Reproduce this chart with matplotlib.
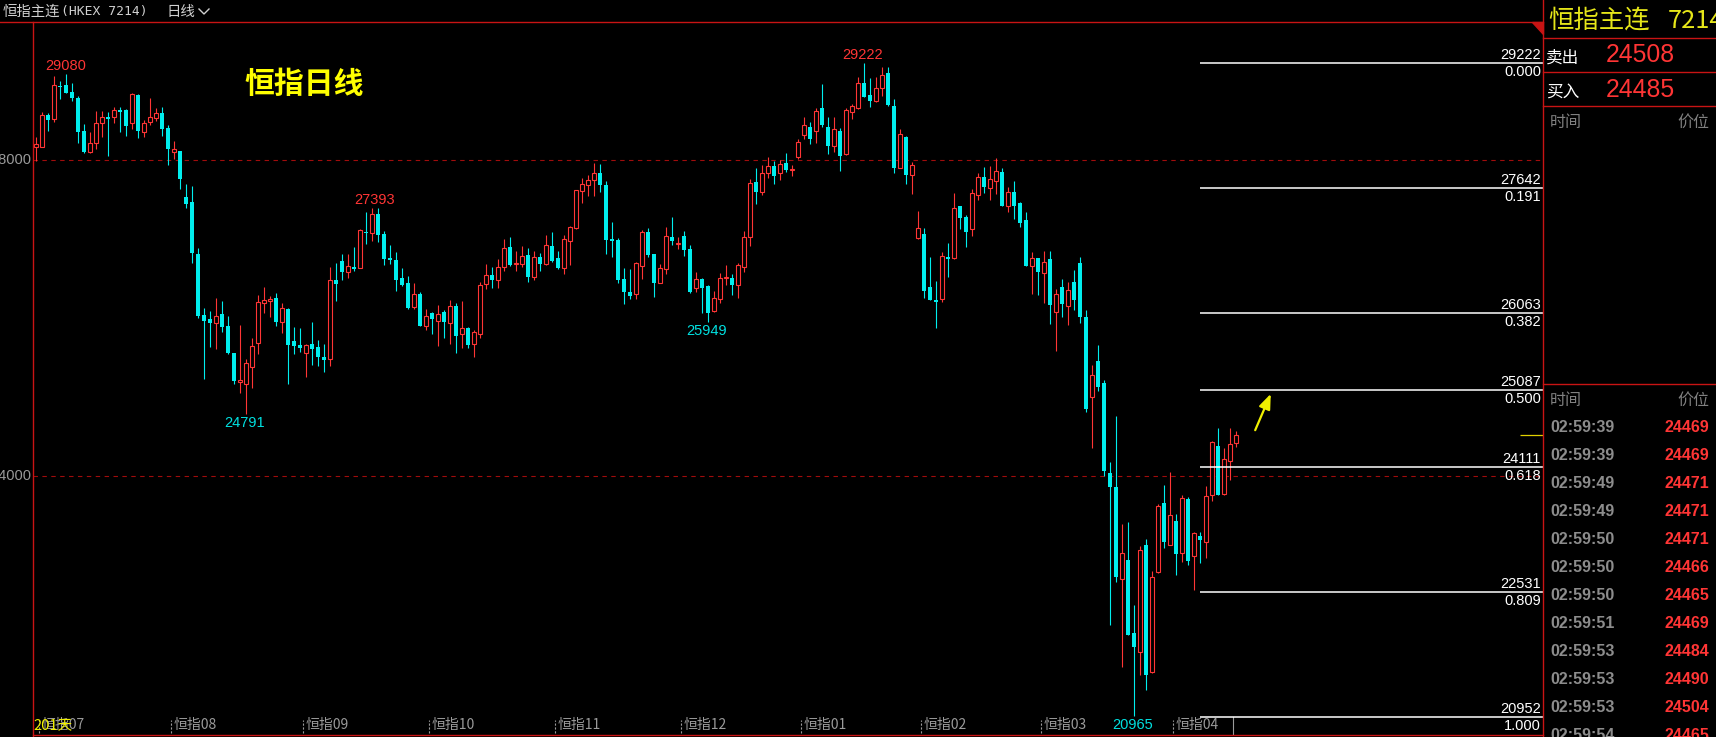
import matplotlib
matplotlib.use("Agg")
import matplotlib.pyplot as plt
from matplotlib.lines import Line2D
from matplotlib.patches import Polygon
import matplotlib.transforms as mtransforms

plt.rcParams['font.family'] = ['Noto Sans CJK SC', 'DejaVu Sans']

# daily candles, oldest first (open, high, low, close)
opens = [28159, 28168, 28568, 28522, 28939, 28948, 28859, 28783, 28366, 28104,
         28210, 28463, 28543, 28539, 28631, 28631, 28463, 28821, 28357, 28484,
         28526, 28593, 28404, 28096, 28113, 27535, 27468, 26810, 26038, 25987,
         25941, 26051, 25899, 25557, 25195, 25161, 25384, 25688, 26194, 26211,
         26253, 25954, 26114, 25709, 25658, 25553, 25671, 25637, 25507, 25477,
         26480, 26721, 26586, 26645, 26636, 27088, 27079, 27315, 27062, 26763,
         26733, 26506, 26442, 26143, 26303, 25903, 26063, 25966, 26076, 25932,
         26151, 25801, 25873, 25675, 25793, 26426, 26544, 26485, 26641, 26898,
         26687, 26687, 26792, 26523, 26771, 26687, 26911, 26759, 26628, 26970,
         27142, 27611, 27678, 27741, 27830, 27682, 26999, 26986, 26489, 26329,
         26299, 26662, 27088, 26809, 26447, 26615, 27025, 26940, 27033, 26873,
         26375, 26493, 26405, 26084, 26244, 26510, 26506, 26413, 26641, 27020,
         27720, 27590, 27830, 27923, 27830, 27956, 27872, 28032, 28319, 28416,
         28370, 28657, 28416, 28180, 28366, 28070, 28610, 28652, 28973, 28821,
         28749, 28905, 29099, 28682, 27902, 28290, 27805, 27016, 27062, 26392,
         26228, 26244, 26773, 26754, 27419, 27279, 27129, 27559, 27784, 27648,
         27737, 27845, 27419, 27592, 27456, 27241, 26651, 26759, 26563, 26745,
         26080, 26392, 26152, 26455, 26696, 26013, 24997, 25456, 25174, 24035,
         23858, 22694, 22935, 22011, 21771, 23129, 21526, 22783, 23656, 23133,
         23428, 23023, 23706, 22994, 23242, 23171, 23757, 24377, 23778, 24187,
         24423]
highs = [28286, 28610, 28589, 29062, 28994, 29080, 28973, 28809, 28454, 28357,
         28619, 28619, 28610, 28669, 28669, 28644, 28847, 28830, 28505, 28779,
         28661, 28669, 28442, 28239, 28113, 27695, 27670, 26881, 26127, 26089,
         26253, 26215, 26025, 25557, 25912, 25477, 25743, 26291, 26392, 26278,
         26316, 26186, 26127, 25890, 25878, 25671, 25949, 25722, 25671, 26645,
         26691, 26809, 26809, 26898, 27121, 27345, 27387, 27393, 27100, 26923,
         26835, 26632, 26531, 26438, 26329, 26114, 26076, 26164, 26101, 26227,
         26189, 26215, 25886, 25848, 26455, 26683, 26645, 26746, 26999, 27020,
         26847, 26906, 26885, 26843, 26818, 27050, 27083, 26847, 27050, 27164,
         27615, 27767, 27809, 27961, 27948, 27733, 27214, 27012, 26632, 26620,
         26708, 27113, 27138, 26809, 26679, 27151, 27278, 27025, 27100, 26923,
         26582, 26506, 26417, 26341, 26565, 26670, 26556, 26696, 27100, 27758,
         27897, 27935, 28037, 27986, 27994, 28083, 27935, 28260, 28543, 28475,
         28652, 28956, 28543, 28543, 28399, 28652, 28711, 29049, 29222, 29040,
         29049, 29171, 29180, 28770, 28391, 28306, 27973, 27358, 27134, 26776,
         26472, 26839, 26951, 27583, 27419, 27297, 27634, 27835, 27910, 27924,
         28023, 27896, 27658, 27733, 27466, 27339, 26834, 26759, 26848, 26848,
         26366, 26493, 26455, 26607, 26771, 26101, 25405, 25658, 25216, 24174,
         24761, 23390, 23415, 22365, 23112, 23200, 22795, 23643, 23883, 24048,
         23517, 23757, 23732, 23293, 23289, 23871, 24444, 24605, 24352, 24605,
         24571]
lows = [27990, 28159, 28370, 28484, 28766, 28842, 28750, 28218, 28092, 28092,
        28138, 28294, 28054, 28467, 28357, 28307, 28395, 28281, 28294, 28442,
        28497, 28307, 27940, 28016, 27636, 27396, 26692, 26004, 25224, 25637,
        25604, 25819, 25545, 25161, 25055, 24791, 25110, 25540, 26059, 26017,
        25903, 25815, 25161, 25540, 25566, 25258, 25405, 25397, 25313, 25397,
        26219, 26480, 26510, 26598, 26636, 26936, 26978, 26965, 26670, 26679,
        26341, 26405, 26114, 26114, 25898, 25848, 25797, 25645, 25747, 25671,
        25561, 25624, 25624, 25511, 25751, 26367, 26379, 26383, 26598, 26658,
        26598, 26649, 26459, 26485, 26598, 26674, 26708, 26620, 26561, 26670,
        27126, 27459, 27547, 27547, 27598, 26809, 26776, 26447, 26181, 26244,
        26236, 26497, 26771, 26270, 26443, 26556, 26923, 26877, 26788, 26316,
        26329, 26067, 25949, 26080, 26190, 26417, 26295, 26257, 26586, 26915,
        27446, 27556, 27767, 27699, 27746, 27851, 27800, 28016, 28269, 28205,
        28218, 28420, 28075, 28096, 27864, 28062, 28513, 28640, 28791, 28665,
        28732, 28813, 28686, 27834, 27893, 27699, 27564, 27000, 26248, 26228,
        25878, 26206, 26520, 26745, 27124, 26900, 27035, 27494, 27583, 27494,
        27569, 27419, 27339, 27250, 27152, 26656, 26305, 26291, 26188, 25926,
        25584, 26013, 25912, 26101, 25937, 24815, 24360, 25081, 24006, 22116,
        22665, 21590, 21990, 20965, 21488, 21298, 21505, 22779, 23095, 23133,
        22753, 22918, 22876, 22564, 22905, 22968, 23689, 23765, 23765, 23955,
        24373]
closes = [28197, 28568, 28505, 28948, 28918, 28851, 28787, 28357, 28104, 28210,
          28463, 28539, 28522, 28627, 28610, 28433, 28834, 28370, 28463, 28539,
          28589, 28387, 28142, 28134, 27763, 27446, 26818, 26030, 25966, 25937,
          26025, 25890, 25557, 25207, 25211, 25427, 25646, 26202, 26228, 26240,
          25954, 26127, 25663, 25650, 25625, 25654, 25608, 25511, 25473, 26477,
          26434, 26586, 26657, 26620, 27113, 27071, 27315, 27054, 26750, 26738,
          26480, 26417, 26126, 26303, 25898, 26025, 25991, 26050, 25949, 26151,
          25772, 25869, 25658, 25823, 26417, 26539, 26480, 26641, 26881, 26670,
          26691, 26780, 26518, 26767, 26687, 26919, 26725, 26632, 26995, 27147,
          27615, 27691, 27741, 27830, 27686, 26991, 26978, 26485, 26333, 26282,
          26691, 27084, 26797, 26443, 26628, 27033, 26978, 26953, 26864, 26329,
          26489, 26384, 26067, 26249, 26502, 26519, 26421, 26666, 27020, 27708,
          27590, 27834, 27919, 27800, 27944, 27868, 27881, 28222, 28437, 28269,
          28619, 28441, 28180, 28391, 28054, 28631, 28678, 28969, 28800, 28749,
          28910, 29070, 28694, 27902, 28323, 27813, 27931, 27134, 26346, 26228,
          26206, 26784, 26740, 27386, 27264, 27091, 27578, 27779, 27658, 27761,
          27854, 27419, 27592, 27419, 27204, 26656, 26759, 26581, 26708, 26165,
          26305, 26177, 26354, 26228, 26013, 24849, 25279, 25132, 24069, 23867,
          22728, 23023, 21990, 21842, 23061, 21488, 22720, 23618, 23171, 23504,
          23019, 23719, 22930, 23276, 23196, 23744, 24427, 23765, 24212, 24402,
          24516]

month_pos = [0.5, 22.5, 44.5, 65.5, 86.5, 107.5, 127.5, 147.5, 167.5, 189.5]
month_labels = ['恒指07', '恒指08', '恒指09', '恒指10', '恒指11', '恒指12',
                '恒指01', '恒指02', '恒指03', '恒指04']

fib_prices = [29222, 27642, 26063, 25087, 24111, 22531, 20952]
fib_ratios = ['0.000', '0.191', '0.382', '0.500', '0.618', '0.809', '1.000']

grid_levels = [28000, 24000]

# extreme value marks: (candle, price, text, colour)
marks = [(5, 29080, '29080', 'red'), (56.5, 27393, '27393', 'red'),
         (137.7, 29222, '29222', 'red'), (34.8, 24791, '24791', 'cyan'),
         (111.8, 25949, '25949', 'cyan'), (182.8, 20965, '20965', 'cyan')]

ticks_time = ['02:59:39', '02:59:39', '02:59:49', '02:59:49', '02:59:50', '02:59:50',
              '02:59:50', '02:59:51', '02:59:53', '02:59:53', '02:59:53', '02:59:54']
ticks_price = [24469, 24469, 24471, 24471, 24471, 24466,
               24465, 24469, 24484, 24490, 24504, 24465]

ask_price = 24508
bid_price = 24485
last_price = 24520

W, H = 1716, 737
RED = '#ff3535'
CYAN = '#00eeee'
FRAME = '#c81414'
GREY = '#9a9a9a'
YELLOW = '#f0f000'
NUM_FONT = 'Liberation Sans'

fig = plt.figure(figsize=(W / 100, H / 100), dpi=100, facecolor='black')


def fx(x):
    return x / W


def fy(y):
    return 1 - y / H


# main price panel
ax = fig.add_axes([fx(33), fy(735), fx(1543) - fx(33), fy(22) - fy(735)])
ax.set_facecolor('black')
ax.set_xlim(-0.5, 251.17)
ax.set_ylim(20724, 29744)
ax.axis('off')

n = len(opens)
xs = list(range(n))
up = [closes[i] >= opens[i] for i in xs]

for lvl in grid_levels:
    ax.axhline(lvl, color='#a00c0c', lw=0.8, ls=(0, (4, 4)), zorder=1)

wick_col = [RED if u else CYAN for u in up]
ax.vlines(xs, lows, highs, colors=wick_col, lw=0.8, zorder=2)

for i in xs:
    lo = min(opens[i], closes[i])
    h = max(abs(closes[i] - opens[i]), 12)
    if up[i]:
        ax.bar(i, h, bottom=lo, width=0.7, facecolor='black', edgecolor=RED,
               linewidth=0.8, zorder=3)
    else:
        ax.bar(i, h, bottom=lo, width=0.82, color=CYAN, linewidth=0, zorder=3)

# fibonacci levels
for p, r in zip(fib_prices, fib_ratios):
    ax.hlines(p, 194.0, 251.17, color='white', lw=1.1, zorder=4)
    ax.annotate(str(p), xy=(251.17, p), xytext=(-2, 1), textcoords='offset pixels',
                ha='right', va='bottom', color='white', fontsize=10.5, family=NUM_FONT)
    ax.annotate(r, xy=(251.17, p), xytext=(-2, -2), textcoords='offset pixels',
                ha='right', va='top', color='white', fontsize=10.5, family=NUM_FONT)

# high / low marks
for xm, pm, txt, c in marks:
    col = RED if c == 'red' else '#00e0e0'
    off = 8 if c == 'red' else -9
    ax.annotate(txt, xy=(xm, pm), xytext=(0, off), textcoords='offset pixels',
                ha='center', va='center', color=col, fontsize=10.5, family=NUM_FONT)

# last price marker and arrow
ax.hlines(last_price, 247.3, 251.17, color='#e0d000', lw=0.9, zorder=4)
ax.annotate('', xy=(205.8, 25040), xytext=(203.2, 24580),
            arrowprops=dict(arrowstyle='-|>,head_length=0.9,head_width=0.35',
                            color=YELLOW, lw=1.6, shrinkA=0, shrinkB=0))

# month ticks along the bottom
trans = mtransforms.blended_transform_factory(ax.transData, ax.transAxes)
for mp, ml in zip(month_pos, month_labels):
    ax.plot([mp, mp], [0.003, 0.021], color=GREY, lw=0.8, ls=(0, (2, 1.5)),
            transform=trans, clip_on=False)
    ax.text(mp + 0.4, 0.014, ml, transform=trans, color=GREY, fontsize=10,
            ha='left', va='center')
ax.plot([199.5, 199.5], [0.0, 0.025], color=GREY, lw=0.8, transform=trans)

ax.text(0.0, 0.014, '201天', transform=ax.transAxes, color=YELLOW, fontsize=10.5,
        ha='left', va='center')
ax.text(fx(304 - 33) / (fx(1543) - fx(33)), (735 - 84) / 713, '恒指日线',
        transform=ax.transAxes, color='#ffff00', fontsize=21.5, ha='center',
        va='center', fontweight='bold')

# left axis labels, clipped by the figure edge
for lvl in grid_levels:
    yy = ax.transData.transform((0, lvl))[1] / H
    fig.text(fx(31), yy, str(lvl), color=GREY, fontsize=10.5, family=NUM_FONT,
             ha='right', va='center')

# frame lines
frame = [((0, 22), (1543, 22)), ((33, 22), (33, 737)), ((33, 735), (1543, 735)),
         ((1543, 0), (1543, 737)), ((1543, 38), (1716, 38)), ((1543, 72), (1716, 72)),
         ((1543, 106), (1716, 106)), ((1543, 384), (1716, 384))]
for (x0, y0), (x1, y1) in frame:
    fig.add_artist(Line2D([fx(x0), fx(x1)], [fy(y0), fy(y1)], color=FRAME, lw=1.0))
fig.add_artist(Polygon([(fx(1532), fy(22)), (fx(1543), fy(22)), (fx(1543), fy(34))],
                       closed=True, color=FRAME))

# header bar
fig.text(fx(3), fy(12), '恒指主连', color='#d0d0d0', fontsize=10.4, va='center')
fig.text(fx(61), fy(12), '(HKEX 7214)', color='#d0d0d0', fontsize=9.4,
         family='DejaVu Sans Mono', va='center')
fig.text(fx(166), fy(12), '日线', color='#d0d0d0', fontsize=10.4, va='center')
fig.add_artist(Line2D([fx(199), fx(204), fx(209)], [fy(9), fy(14), fy(9)],
                      color='#d0d0d0', lw=1.0))

# quote panel on the right
fig.text(fx(1548), fy(21), '恒指主连', color='#e6e619', fontsize=18.3, va='center')
fig.text(fx(1668), fy(21), '7214', color='#e6e619', fontsize=18.3, va='center')
fig.text(fx(1546), fy(58), '卖出', color='white', fontsize=12, va='center')
fig.text(fx(1546), fy(93), '买入', color='white', fontsize=12, va='center')
fig.text(fx(1606), fy(55.5), str(ask_price), color=RED, fontsize=17.8,
         family=NUM_FONT, va='center')
fig.text(fx(1606), fy(90), str(bid_price), color=RED, fontsize=17.8,
         family=NUM_FONT, va='center')
for yh in (122, 400):
    fig.text(fx(1550), fy(yh), '时间', color='#808080', fontsize=11.5, va='center')
    fig.text(fx(1709), fy(yh), '价位', color='#808080', fontsize=11.5, va='center',
             ha='right')

for k, (t, p) in enumerate(zip(ticks_time, ticks_price)):
    yk = 427.5 + 28 * k
    fig.text(fx(1550), fy(yk), t, color='#8c8c8c', fontsize=11.5, family=NUM_FONT,
             fontweight='bold', va='center')
    fig.text(fx(1709), fy(yk), str(p), color=RED, fontsize=11.5, family=NUM_FONT,
             fontweight='bold', va='center', ha='right')

fig.savefig('out.png', dpi=100, facecolor='black')
